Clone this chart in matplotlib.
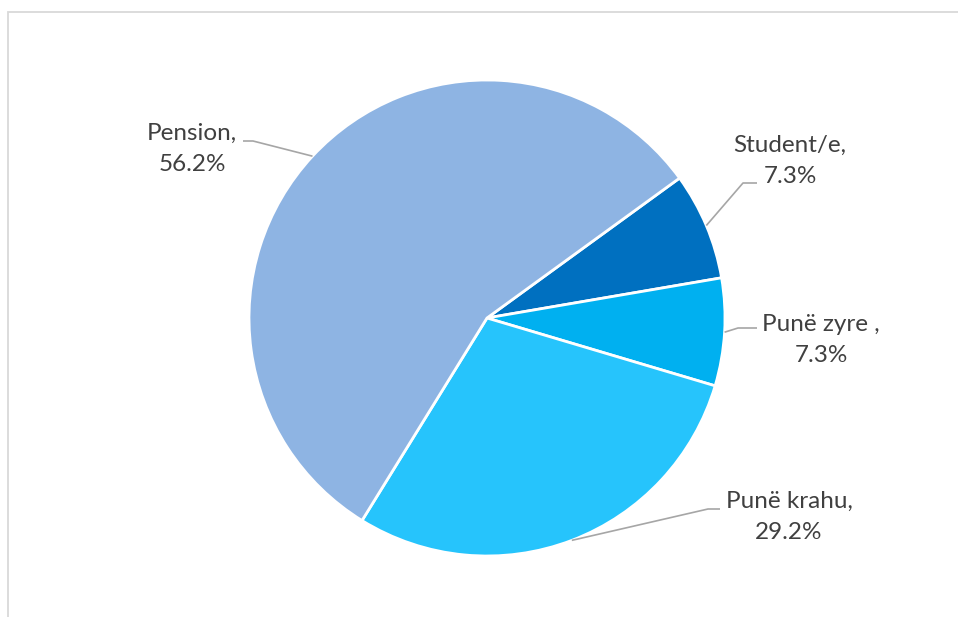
import numpy as np
import matplotlib.pyplot as plt
from matplotlib.patches import Rectangle

plt.rcParams['font.family'] = ['Lato', 'DejaVu Sans']

W, H = 958, 617

categories = ['Student/e', 'Punë zyre ', 'Punë krahu', 'Pension']
shares = [7.3, 7.3, 29.2, 56.2]
colors = ['#0070C0', '#00B0F0', '#26C4FC', '#8EB4E3']

# label centres and leader-line elbows (pixels, y measured from the top)
label_pos = [(790, 161), (821, 340), (789, 517), (192, 149)]
elbows = [[(743, 183), (757, 183)],
          [(738, 328), (757, 328)],
          [(708, 509), (720, 509)],
          [(253, 141), (243, 141)]]

center = (487, H - 318)
radius = 238
start = 36

fig = plt.figure(figsize=(W / 100, H / 100), dpi=100)
ax = fig.add_axes([0, 0, 1, 1])

# light chart-area border (right and bottom fall outside the image)
fig.patches.append(Rectangle((7.5 / W, -0.05), 1.1, 1 - 11.5 / H + 0.05,
                             transform=fig.transFigure, fill=False,
                             edgecolor='#D9D9D9', linewidth=1.3))

wedges, _ = ax.pie(shares, colors=colors, startangle=start, counterclock=False,
                   center=center, radius=radius, frame=True,
                   wedgeprops=dict(edgecolor='white', linewidth=2))
ax.set_xlim(0, W)
ax.set_ylim(0, H)
ax.set_aspect('equal')
ax.axis('off')

for w, name, val, (tx, ty), pts in zip(wedges, categories, shares, label_pos, elbows):
    mid = np.deg2rad((w.theta1 + w.theta2) / 2)
    ax0 = center[0] + radius * np.cos(mid)
    ay0 = center[1] + radius * np.sin(mid)
    xs = [ax0] + [p[0] for p in pts]
    ys = [ay0] + [H - p[1] for p in pts]
    ax.plot(xs, ys, color='#A6A6A6', linewidth=1.2, solid_capstyle='butt')
    ax.text(tx, H - ty, f'{name},\n{val:.1f}%', ha='center', va='center',
            fontsize=17.5, color='#404040', linespacing=1.55)

fig.savefig('out.png', dpi=100)
